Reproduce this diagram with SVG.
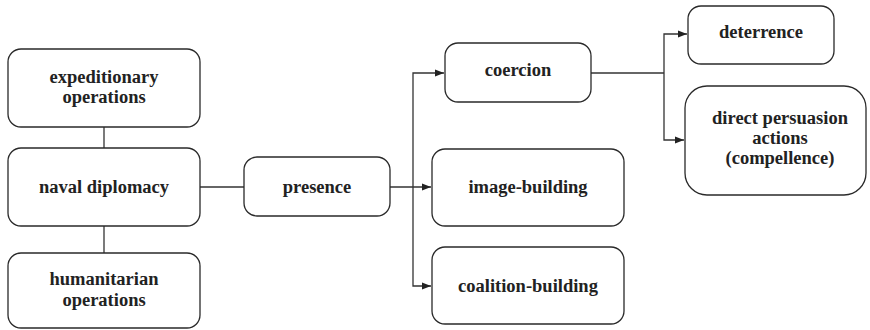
<svg xmlns="http://www.w3.org/2000/svg" width="870" height="330" viewBox="0 0 870 330">
<style>
.box{fill:#fff;stroke:#2a2a2a;stroke-width:1.3}
.t{font-family:"Liberation Serif","Times New Roman",serif;font-weight:bold;font-size:18.5px;fill:#222;text-anchor:middle}
.c{fill:none;stroke:#333;stroke-width:1.3}
</style>
<defs>
<marker id="ar" markerWidth="10" markerHeight="8" refX="9" refY="4" orient="auto" markerUnits="userSpaceOnUse">
<path d="M0,0.5 L9,4 L0,7.5 Z" fill="#222"/>
</marker>
</defs>
<g id="connectors">
<path class="c" d="M104,127 V148"/>
<path class="c" d="M104,226 V253"/>
<path class="c" d="M200,187 H244"/>
<path class="c" d="M390,187 H431" marker-end="url(#ar)"/>
<path class="c" d="M413,187 V73 H444" marker-end="url(#ar)"/>
<path class="c" d="M413,187 V286 H431" marker-end="url(#ar)"/>
<path class="c" d="M591,73 H664"/>
<path class="c" d="M664,73 V34 H687" marker-end="url(#ar)"/>
<path class="c" d="M664,73 V140 H684" marker-end="url(#ar)"/>
</g>
<g id="expeditionary">
<rect class="box" x="8" y="49" width="192" height="78" rx="13"/>
<text class="t" x="104" y="83">expeditionary</text>
<text class="t" x="104" y="103">operations</text>
</g>
<g id="naval">
<rect class="box" x="8" y="148" width="192" height="78" rx="13"/>
<text class="t" x="104" y="193">naval diplomacy</text>
</g>
<g id="humanitarian">
<rect class="box" x="8" y="253" width="192" height="75" rx="13"/>
<text class="t" x="104" y="285">humanitarian</text>
<text class="t" x="104" y="306">operations</text>
</g>
<g id="presence">
<rect class="box" x="244" y="157" width="146" height="59" rx="13"/>
<text class="t" x="317" y="193">presence</text>
</g>
<g id="coercion">
<rect class="box" x="445" y="43" width="146" height="59" rx="13"/>
<text class="t" x="518" y="76">coercion</text>
</g>
<g id="image">
<rect class="box" x="432" y="149" width="192" height="77" rx="13"/>
<text class="t" x="528" y="193">image-building</text>
</g>
<g id="coalition">
<rect class="box" x="432" y="247" width="192" height="77" rx="13"/>
<text class="t" x="528" y="292">coalition-building</text>
</g>
<g id="deterrence">
<rect class="box" x="688" y="6" width="146" height="58" rx="13"/>
<text class="t" x="761" y="38">deterrence</text>
</g>
<g id="compellence">
<rect class="box" x="685" y="86" width="181" height="109" rx="22"/>
<text class="t" x="780" y="124">direct persuasion</text>
<text class="t" x="780" y="144">actions</text>
<text class="t" x="780" y="164">(compellence)</text>
</g>
</svg>
